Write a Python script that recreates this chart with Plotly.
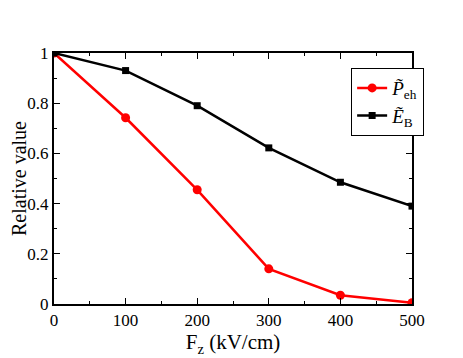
import plotly.graph_objects as go

# field values (kV/cm)
fz = [0, 100, 200, 300, 400, 500]
p_eh = [1.0, 0.742, 0.455, 0.14, 0.035, 0.005]
e_b = [1.0, 0.93, 0.79, 0.622, 0.485, 0.39]

font_family = "Liberation Serif, DejaVu Serif"

fig = go.Figure()
fig.add_trace(go.Scatter(
  x=fz, y=p_eh, mode='lines+markers',
  name='<i>P\u0303</i><sub>eh</sub>',
  line=dict(color='#ff0000', width=2.5),
  marker=dict(symbol='circle', size=9, color='#ff0000')
))
fig.add_trace(go.Scatter(
  x=fz, y=e_b, mode='lines+markers',
  name='<i>E\u0303</i><sub>B</sub>',
  line=dict(color='black', width=2.5),
  marker=dict(symbol='square', size=7, color='black')
))

axis_common = dict(
  showgrid=False, zeroline=False, showline=True, linecolor='black', linewidth=2,
  mirror='ticks', ticks='inside', ticklen=6, tickwidth=1, tickcolor='black',
  tickfont=dict(family=font_family, size=17, color='black'), automargin=False,
)
# page body adds an 8px offset, so the figure is a bit smaller than the window
fig.update_layout(
  width=455, height=350,
  paper_bgcolor='white', plot_bgcolor='white',
  margin=dict(l=46, r=51, t=45, b=54),
  font=dict(family=font_family, color='black'),
  xaxis=dict(axis_common, range=[0, 500], dtick=100,
             minor=dict(dtick=50, ticks='inside', ticklen=3, tickcolor='black'),
             title=dict(text='F<sub>z</sub> (kV/cm)', font=dict(family=font_family, size=21), standoff=0)),
  yaxis=dict(axis_common, range=[0, 1], dtick=0.2,
             minor=dict(dtick=0.1, ticks='inside', ticklen=3, tickcolor='black'),
             title=dict(text='Relative value', font=dict(family=font_family, size=20), standoff=7)),
  legend=dict(x=0.83, y=0.94, xanchor='left', yanchor='top',
              bgcolor='white', bordercolor='black', borderwidth=1,
              font=dict(family=font_family, size=19), tracegroupgap=0,
              itemwidth=30)
)

fig.write_html("out.html")
